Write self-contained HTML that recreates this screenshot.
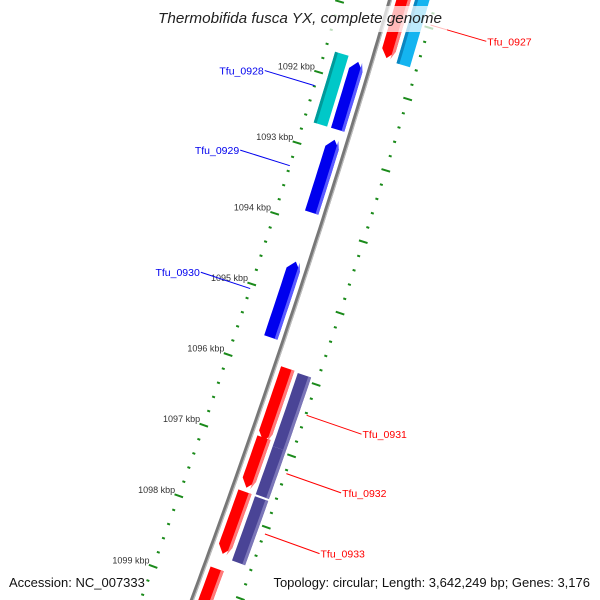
<!DOCTYPE html>
<html><head><meta charset="utf-8"><style>
html,body{margin:0;padding:0;background:#fff;width:600px;height:600px;overflow:hidden;}
svg{display:block;font-family:"Liberation Sans","DejaVu Sans",sans-serif;}
</style></head><body>
<svg id="map" width="600" height="600" viewBox="0 0 600 600" xmlns="http://www.w3.org/2000/svg">
<g id="ticks"></g>
<g id="backbone"></g>
<g id="genes"></g>
<g id="labels"></g>
<rect x="153" y="6" width="294" height="26" fill="#fff" fill-opacity="0.72"/>
<text x="300" y="23" text-anchor="middle" font-size="14.5" font-style="italic" fill="#222" textLength="284" lengthAdjust="spacingAndGlyphs">Thermobifida fusca YX, complete genome</text>
<text x="9" y="587" font-size="13" fill="#111">Accession: NC_007333</text>
<text x="590" y="587" text-anchor="end" font-size="13" fill="#111">Topology: circular; Length: 3,642,249 bp; Genes: 3,176</text>
</svg>
<script>
// ---- data ----
const geneNames = ["Tfu_0927","Tfu_0927b","Tfu_0928","Tfu_0928b","Tfu_0929","Tfu_0930","Tfu_0931","Tfu_0931b","Tfu_0932b","Tfu_0932","Tfu_0933","Tfu_0933b","Tfu_0934"];
const geneStarts = [1090366,1090400,1091713,1091672,1092811,1094530,1095921,1095934,1096962,1096893,1097654,1097666,1098738];
const geneEnds   = [1091555,1091582,1092670,1092672,1093839,1095600,1096935,1096962,1097638,1097597,1098527,1098567,1099900];
const geneKinds  = ["fwd","fwdBox","rev","revBox","rev","rev","fwd","fwdBox","fwdBox","fwd","fwd","fwdBox","fwd"];
const kbpTicks = [1092,1093,1094,1095,1096,1097,1098,1099];
const labelNames = ["Tfu_0927","Tfu_0928","Tfu_0929","Tfu_0930","Tfu_0931","Tfu_0932","Tfu_0933"];
const labelGeneIdx = [0,2,4,5,6,9,10];

// ---- geometry (axis functions) ----
const NS="http://www.w3.org/2000/svg";
function X(y){return 390-0.29*y-6.7e-5*y*y;}
function yOf(bp){return 228+(bp-1094000)*0.071;}
function pt(bp,off){const y=yOf(bp);const d=-(0.29+2*6.7e-5*y);const L=Math.hypot(d,1);const nx=1/L, ny=-d/L;return [X(y)+nx*off, y+ny*off];}
function mk(tag,attrs,parent){const e=document.createElementNS(NS,tag);for(const k in attrs)e.setAttribute(k,attrs[k]);parent.appendChild(e);return e;}
function poly(pts){return pts.map(p=>p[0].toFixed(1)+","+p[1].toFixed(1)).join(" ");}

// ticks
const tg=document.getElementById('ticks');
for(let bp=1090800;bp<=1100200;bp+=200){
  const major=bp%1000===0;
  for(const side of [-1,1]){
    const c=side<0?-48:45, h=major?4.5:1.5;
    const a=pt(bp,c-h), b=pt(bp,c+h);
    const l=mk('line',{x1:a[0],y1:a[1],x2:b[0],y2:b[1],stroke:'#1a8a1a','stroke-width':2},tg);
    
    
  }
}
kbpTicks.forEach(k=>{
  const p=pt(k*1000,-54);
  const t=mk('text',{x:p[0]+2,y:p[1]-1,'text-anchor':'end','font-size':9,fill:'#333'},tg);
  
  
  t.textContent=k+' kbp';
});

// backbone
const bg=document.getElementById('backbone');
const bb=[];for(let y=-20;y<=620;y+=10)bb.push([X(y),y]);
const b1=mk('polyline',{points:poly(bb),fill:'none',stroke:'#777','stroke-width':4},bg);


const bb2=[];for(let y=-20;y<=620;y+=10)bb2.push([X(y)+1.5,y]);
const b2=mk('polyline',{points:poly(bb2),fill:'none',stroke:'#bbb','stroke-width':1.2},bg);



// genes
const gg=document.getElementById('genes');
const styles={fwd:{off:13,col:'#ff0000',hi:'#ff7a7a',arrow:1},fwdBox:{off:31,col:'#4a4496',hi:'#7b76b8',arrow:0},
  rev:{off:-13,col:'#0000ee',hi:'#5a5aff',arrow:-1},revBox:{off:-31,col:'#00c8c8',hi:'#009a9a',arrow:0}};
function shape(s,e,o1,o2,arrow,center){
  const n=8, pts=[], tip=8/0.071;
  let a=s,b=e;
  if(arrow===1)b=e-tip; if(arrow===-1)a=s+tip;
  if(arrow===-1)pts.push(pt(s,center));
  for(let i=0;i<=n;i++)pts.push(pt(a+(b-a)*i/n,o1));
  if(arrow===1)pts.push(pt(e,center));
  for(let i=n;i>=0;i--)pts.push(pt(a+(b-a)*i/n,o2));
  return pts;
}
geneNames.forEach((nm,i)=>{
  const st=Object.assign({},styles[geneKinds[i]]);
  if(i===1){st.col='#14b4f0';st.hi='#0a86c0';}
  const o=st.off, w=7;
  const g=mk('g',{},gg);
  
  
  mk('polygon',{points:poly(shape(geneStarts[i],geneEnds[i],o-w,o+w,st.arrow,o)),fill:st.col},g);
  const strip = st.arrow===0 && o<0 ? [o-w,o-w+3] : [o+w-3,o+w];
  if(st.arrow===0 && i===1){strip[0]=o-w;strip[1]=o-w+3;}
  mk('polygon',{points:poly(shape(geneStarts[i],geneEnds[i],strip[0],strip[1],st.arrow,strip[0])),fill:st.hi},g);
});

// labels
const lg=document.getElementById('labels');
labelNames.forEach((nm,j)=>{
  const i=labelGeneIdx[j];
  const mid=(geneStarts[i]+geneEnds[i])/2;
  const left=geneKinds[i].startsWith('rev');
  const col=left?'#0000ee':'#ff0000';
  const a=pt(mid,left?-48:46);
  const b=pt(mid,left?-100:104);
  const ln=mk('line',{x1:a[0],y1:a[1],x2:b[0],y2:b[1],stroke:col,'stroke-width':1},lg);
  
  
  const t=mk('text',{x:b[0]+(left?-1:1),y:b[1]+4,'text-anchor':left?'end':'start','font-size':10.5,fill:col},lg);
  
  
  t.textContent=nm;
});
</script>
</body></html>
